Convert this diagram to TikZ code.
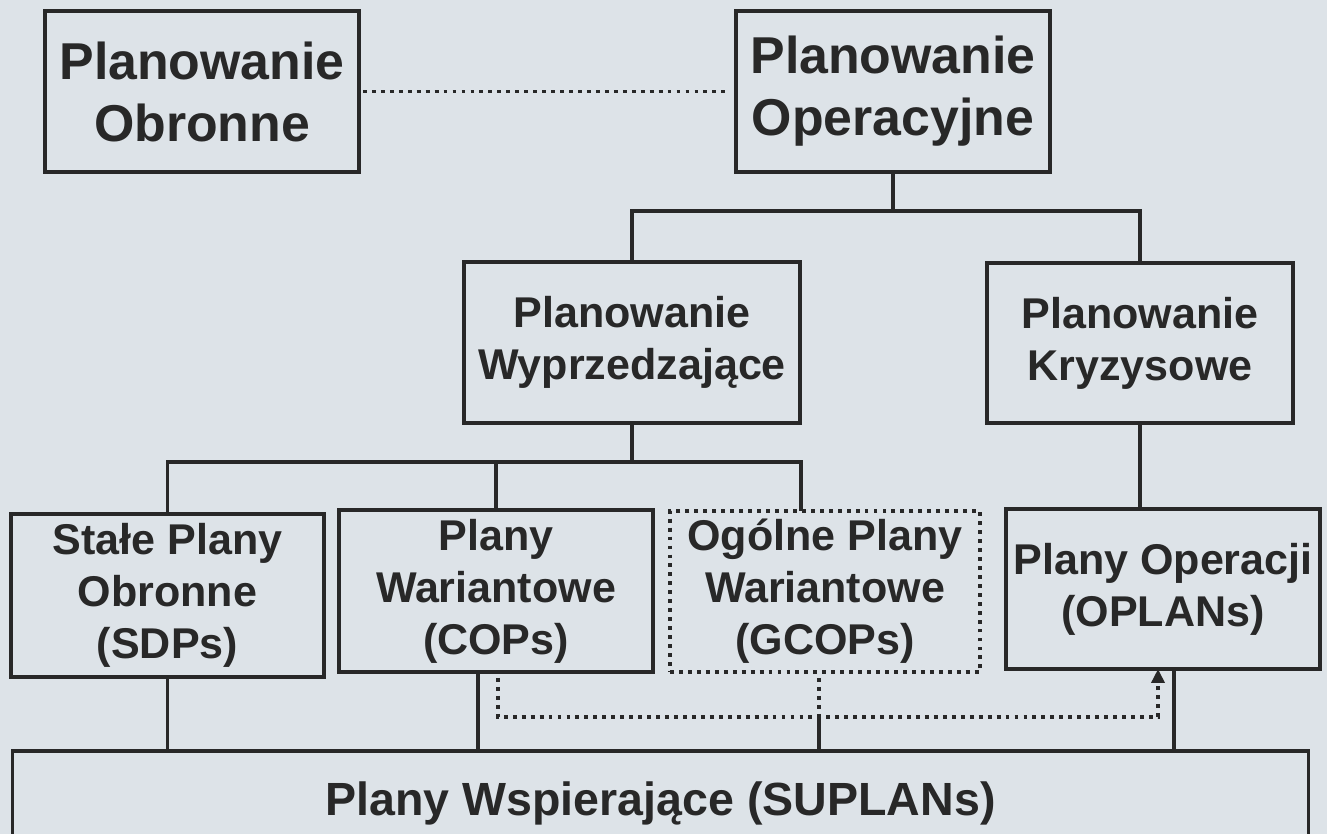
\documentclass[tikz,border=0pt]{standalone}
\usepackage{fontspec}
\setmainfont{Liberation Sans}
\usepackage{tikz}
\usetikzlibrary{arrows.meta}
\definecolor{ink}{RGB}{40,40,40}
\definecolor{paper}{RGB}{221,227,232}

\begin{document}
\begin{tikzpicture}[x=0.02cm,y=-0.02cm,every node/.style={draw=ink,text=ink,line width=1.8pt,outer sep=0pt,inner sep=0pt,align=center}]
\tikzstyle{bigtxt}=[font=\fontsize{29.5}{35.3}\selectfont\bfseries]
\tikzstyle{smalltxt}=[font=\fontsize{24.5}{29.6}\selectfont\bfseries]
\tikzstyle{link}=[draw=ink,line width=1.8pt]
\tikzstyle{dots}=[draw=ink,line width=2.1pt,dash pattern=on 2.2pt off 2.9pt]

\fill[paper] (0,0) rectangle (1327,834);
\clip (0,0) rectangle (1327,834);

\node (obr_node) at (202,91.5) [bigtxt,minimum width=6.28cm,minimum height=3.22cm] {Planowanie\\Obronne};
\node (ops_node) at (893,91.5) [bigtxt,minimum width=6.28cm,minimum height=3.22cm] {Planowanie\\Operacyjne};
\node (wyp_node) at (632,342.5) [smalltxt,minimum width=6.72cm,minimum height=3.22cm] {Planowanie\\Wyprzedzające};
\node (kry_node) at (1140,343) [smalltxt,minimum width=6.12cm,minimum height=3.2cm] {Planowanie\\Kryzysowe};
\node (sdp_node) at (167.5,595.5) [smalltxt,minimum width=6.26cm,minimum height=3.26cm] {Stałe Plany\\Obronne\\(SDPs)};
\node (cop_node) at (496,591) [smalltxt,minimum width=6.28cm,minimum height=3.24cm] {Plany\\Wariantowe\\(COPs)};
\node (gco_node) at (825,591.5) [smalltxt,dots,minimum width=6.2cm,minimum height=3.22cm] {Ogólne Plany\\Wariantowe\\(GCOPs)};
\node (opl_node) at (1163,589) [smalltxt,minimum width=6.28cm,minimum height=3.2cm] {Plany Operacji\\(OPLANs)};
\node (sup_node) at (660.5,803) [smalltxt,font=\fontsize{26.5}{30}\selectfont\bfseries,minimum width=25.94cm,minimum height=2.08cm] {Plany Wspierające (SUPLANs)};

\draw [dots,shorten <=0.08cm,shorten >=0.18cm] (obr_node) -- (ops_node);
\draw [link] (ops_node.south) -- ++(0,39) coordinate (top_fork);
\draw [link] (wyp_node.north) |- (top_fork) -| (kry_node.north);
\draw [link] (wyp_node.south) -- ++(0,39) coordinate (mid_fork);
\draw [link] (sdp_node.north) |- ([xshift=-0.48cm]gco_node.north |- mid_fork) -- ([xshift=-0.48cm]gco_node.north);
\draw [link] (cop_node.north) -- (cop_node.north |- mid_fork);
\draw [link] (kry_node.south) -- (kry_node.south |- opl_node.north);

\draw [link] (sdp_node.south) -- (sdp_node.south |- sup_node.north);
\draw [link] ([xshift=-0.36cm]cop_node.south) -- ([xshift=-0.36cm]cop_node.south |- sup_node.north);
\draw [link] ([xshift=0.22cm]opl_node.south) -- ([xshift=0.22cm]opl_node.south |- sup_node.north);
\draw [dots,shorten <=0.12cm] ([xshift=-0.12cm]gco_node.south) -- ++(0,45) coordinate (g_mid);
\draw [link] (g_mid) -- (g_mid |- sup_node.north);
\draw [dots,shorten <=0.12cm,-{Triangle[length=0.28cm,width=0.26cm]}] ([xshift=0.04cm]cop_node.south) -- ++(0,45) -| ([xshift=-0.1cm]opl_node.south);

\end{tikzpicture}
\end{document}
